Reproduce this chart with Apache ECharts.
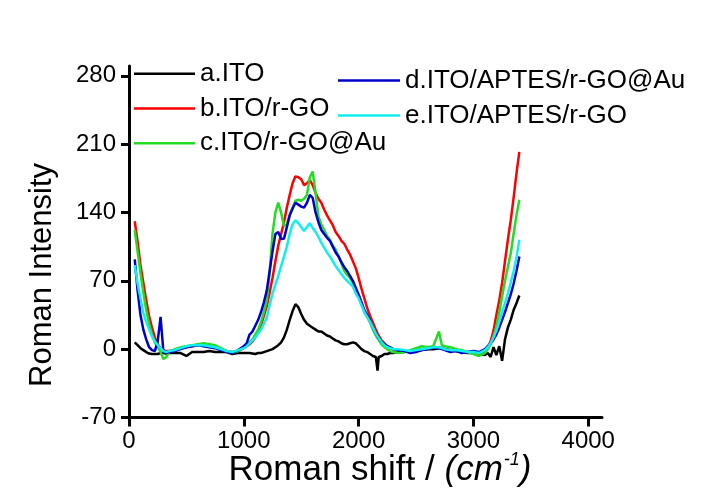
<!DOCTYPE html>
<html>
<head>
<meta charset="utf-8">
<script src="https://cdn.jsdelivr.net/npm/echarts@6/dist/echarts.min.js"></script>
<style>
html,body{margin:0;padding:0;background:#fff;}
#chart{width:705px;height:491px;}
</style>
</head>
<body>
<div id="chart"></div>
<script>
// Raman shift grid (cm-1)
const shift = [50,75,100,125,150,175,200,225,250,275,300,325,350,
400,450,500,550,600,650,700,750,800,850,900,950,1000,
1025,1050,1075,1100,1125,1150,1175,1200,1225,1250,1275,1300,1325,1350,1375,1400,1425,1450,1475,1500,1525,1550,1575,1600,1625,1650,1675,1700,1725,1750,1775,1800,1825,1850,1875,1900,1925,1950,1975,2000,2025,2050,2075,2100,2125,2150,2165,2175,2200,2225,2250,2275,2300,
2350,2400,2450,2500,2550,2600,2650,2700,2725,2750,2800,2850,2900,2950,3000,3050,3100,
3125,3150,3175,3200,3225,3250,3275,3300,3325,3350,3375,3400];

const seriesNames = ['a.ITO','b.ITO/r-GO','c.ITO/r-GO@Au','d.ITO/APTES/r-GO@Au','e.ITO/APTES/r-GO'];

const ito = [7,4,1,-1,-3,-4.5,-5,-5,-5,-4,-4,-4.5,-4,
-4,-4,-7,-3,-3,-3,-2,-3,-3,-3,-5,-4,-4,
-4,-4,-4.5,-5,-4,-4,-3,-2,-1,0, 2,4,7,12,20,30,39,46,43,36, 30,26,24,22,20,18,18,16,14,13, 11,9,8,6,5,5,6,7,6,3, 0,-2,-3,-5,-7,-8,-22,-8,-7,-5, -5,-4,-4,
-3,-3,-2,-1,-1,0,0,1,1,0,-1,-2,-3,-4,-4,-5,-6,
-4,-8,2,-6,3,-12,10,22,30,40,47,55];

const itoRGO = [131,110,86,68,50,34,22,12,5,1,-1,-2,-2,
-1,1,2,3,4,4,3,2,0,-2,-3,-2,1,
3,5,8,12,18,25,34,44,58,73, 90,106,118,130,145,158,170,177,176,174, 168,170,173,168,160,154,150,143,137,132, 127,120,116,111,108,102,97,90,83,73, 62,52,42,34,27,20,16,14,9,6, 3,1,0,
-1,-2,-3,-1,0,1,2,2,1,0,-1,-2,-3,-3,-4,-6,-3,
2,8,19,35,50,68,90,112,132,155,180,202];

const itoRGOAu = [122,100,78,58,40,26,15,7,2,-3,-10,-8,-3,
0,2,3,4,5,6,5,4,1,-2,-4,-2,2,
4,7,10,15,20,28,38,50,78,118, 140,150,140,126,128,138,145,152,153,152, 154,158,176,182,160,136,128,122,116,112, 106,102,95,88,80,76,73,68,61,54, 46,38,33,27,20,14,11,9,5,2, 0,-2,-3,
-4,-3,-1,1,3,2,3,18,4,3,2,0,-1,-3,-5,-7,-4,
0,5,13,23,38,54,70,84,98,118,137,153];

const itoAptesRGOAu = [92,60,35,20,10,2,-1,-2,8,33,-3,-4,-3,
-2,0,2,3,4,3,2,1,-1,-3,-4,-1,3,
6,15,18,24,30,38,48,60,80,100, 118,120,113,113,125,137,144,150,148,146, 145,150,158,155,140,130,122,118,114,111, 105,99,95,89,84,80,75,70,63,56, 48,40,35,29,22,16,13,12,7,5, 3,2,0,
-1,-2,-4,-3,-1,0,2,1,0,-1,-3,-2,-4,-3,-2,-3,0,
3,6,10,15,22,30,38,47,56,67,80,95];

const itoAptesRGO = [86,67,52,37,28,20,13,8,4,1,-2,-3,-2,
-1,1,3,4,4,4,3,2,0,-2,-3,-1,1,
3,6,9,12,16,20,26,32,45,57, 66,75,85,95,105,118,128,132,129,125, 121,125,129,124,120,115,109,104,99,95, 90,85,81,77,73,70,67,64,57,52, 45,38,33,28,22,16,13,11,7,4, 2,1,0,
0,-1,-2,-1,0,1,2,2,1,0,-1,-1,-2,-3,-3,-4,-1,
2,6,12,19,28,38,47,57,68,80,94,112];

const xTicks = [0,1000,2000,3000,4000];
const yTicks = [-70,0,70,140,210,280];

const values = [ito, itoRGO, itoRGOAu, itoAptesRGOAu, itoAptesRGO];
const colors = ['#000000','#ff0000','#22dd22','#0000cc','#11eeee'];
const FONT = 'Liberation Sans, Arial, sans-serif';

const chart = echarts.init(document.getElementById('chart'), null, {renderer:'canvas'});

const series = values.map((v, k) => ({
  name: seriesNames[k],
  type: 'line',
  symbol: 'none',
  showSymbol: false,
  animation: false,
  color: colors[k],
  lineStyle: {width: 2.5, color: colors[k]},
  data: shift.map((x, i) => [x, v[i]])
}));

const legendText = {fontFamily: FONT, fontSize: 26, color: '#000', lineHeight: 25};

chart.setOption({
  animation: false,
  backgroundColor: '#fff',
  grid: {left: 129, right: 103, top: 66, bottom: 73.5, containLabel: false},
  xAxis: {
    type: 'value', min: 0, max: 4120, interval: 1000,
    axisLine: {onZero: false, lineStyle: {color: '#000', width: 3}},
    axisTick: {show: true, length: 9, lineStyle: {color: '#000', width: 3}, customValues: xTicks},
    axisLabel: {color: '#000', fontFamily: FONT, fontSize: 24, margin: 12, customValues: xTicks,
      formatter: v => String(v)},
    splitLine: {show: false}
  },
  yAxis: {
    type: 'value', min: -70, max: 290, interval: 70,
    axisLine: {show: true, onZero: false, lineStyle: {color: '#000', width: 3}},
    axisTick: {show: true, length: 8, lineStyle: {color: '#000', width: 3}, customValues: yTicks},
    axisLabel: {color: '#000', fontFamily: FONT, fontSize: 24, margin: 13, customValues: yTicks,
      formatter: v => String(v)},
    splitLine: {show: false}
  },
  legend: [
    {
      data: seriesNames.slice(0, 3), orient: 'vertical', left: 134, top: 60.8,
      icon: 'rect', itemWidth: 61, itemHeight: 2.4, itemGap: 8.7, textStyle: legendText, padding: 0
    },
    {
      data: seriesNames.slice(3), orient: 'vertical', left: 338, top: 67.5,
      icon: 'rect', itemWidth: 62, itemHeight: 2.4, itemGap: 9, textStyle: legendText, padding: 0
    }
  ],
  graphic: [
    {
      type: 'text', x: 42, y: 275, rotation: Math.PI / 2,
      style: {text: 'Roman Intensity', font: '31px ' + FONT, fill: '#000', align: 'center', verticalAlign: 'middle'}
    },
    {
      type: 'text', x: 380, y: 470,
      style: {
        text: '{n|Roman shift / }{i|(cm}{s|-1}{i|)}',
        align: 'center', verticalAlign: 'middle', fill: '#000',
        rich: {
          n: {fontFamily: FONT, fontSize: 35, fill: '#000', lineHeight: 38},
          i: {fontFamily: FONT, fontSize: 35, fontStyle: 'italic', fill: '#000', lineHeight: 38},
          s: {fontFamily: FONT, fontSize: 18, fontStyle: 'italic', fill: '#000', verticalAlign: 'top', lineHeight: 18, padding: [0, 0, 0, 1]}
        }
      }
    }
  ],
  series: series
});
</script>
</body>
</html>
